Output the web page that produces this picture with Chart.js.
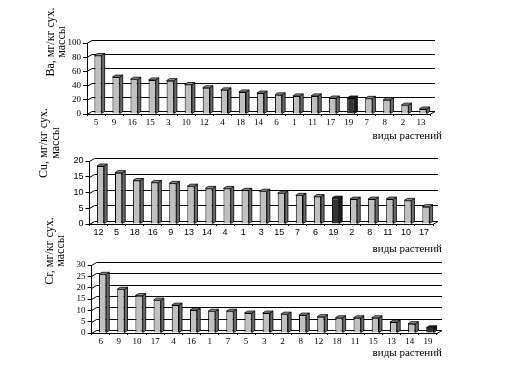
<!DOCTYPE html>
<html>
<head>
<meta charset="utf-8">
<script src="https://cdn.jsdelivr.net/npm/chart.js@4.4.0/dist/chart.umd.min.js"></script>
<style>
  html, body { margin: 0; padding: 0; background: #fff; }
  #wrap { position: relative; width: 508px; height: 371px; overflow: hidden; }
  canvas { position: absolute; left: 0; top: 0; }
</style>
</head>
<body>
<div id="wrap">
  <canvas id="c1" width="508" height="371"></canvas>
  <canvas id="c2" width="508" height="371"></canvas>
  <canvas id="c3" width="508" height="371"></canvas>
</div>
<script>
// ---- data ----
const categoriesBa = ['5','9','16','15','3','10','12','4','18','14','6','1','11','17','19','7','8','2','13'];
const valuesBa     = [82.5,52,49,48,47,41.5,37,34,31,29.5,27,25.5,25.5,22.5,22.5,22,20,12.5,7];

const categoriesCu = ['12','5','18','16','9','13','14','4','1','3','15','7','6','19','2','8','11','10','17'];
const valuesCu     = [18.4,16.3,13.8,13.2,12.9,12,11.3,11.3,10.7,10.4,9.8,9.1,8.7,8.2,7.9,7.9,7.9,7.5,5.5];

const categoriesCr = ['6','9','10','17','4','16','1','7','5','3','2','8','12','18','11','15','13','14','19'];
const valuesCr     = [25.9,19.3,16.5,14.5,12.3,10.1,9.6,9.6,8.8,8.8,8.3,7.9,7.2,6.7,6.7,6.7,4.8,4.1,2.3];

const yTicksBa = { max: 100, step: 20 };
const yTicksCu = { max: 20, step: 5 };
const yTicksCr = { max: 30, step: 5 };

const titleBa = ['Ba, мг/кг сух.', 'массы'];
const titleCu = ['Cu, мг/кг сух.', 'массы'];
const titleCr = ['Cr, мг/кг сух.', 'массы'];
const xTitle = 'виды растений';
const highlight = '19';

// ---- styles ----
const LIGHT = '#c0c0c0', LIGHT_SIDE = '#6a6a6a', LIGHT_TOP = '#9a9a9a';
const DARK = '#333333', DARK_SIDE = '#1a1a1a', DARK_TOP = '#262626';
const SERIF = '"Liberation Serif", "Times New Roman", serif';
const SANS = '"Liberation Sans", Arial, sans-serif';
const DX = 5, DY = -3;      // back wall offset
const BDX = 3, BDY = -2;    // bar depth
const SHIFT = 2;            // bars sit mid-depth

function makeChart(id, cats, vals, yt, title, geo) {
  const yW = 30, xH = 20;
  const light = cats.map(c => c === highlight ? DARK : LIGHT);
  const plugin = {
    id: 'fake3d_' + id,
    beforeDatasetsDraw(chart) {
      const ctx = chart.ctx, a = chart.chartArea, ys = chart.scales.y;
      ctx.save();
      ctx.strokeStyle = '#000';
      ctx.lineWidth = 1;
      ys.ticks.forEach(t => {
        const y = Math.round(ys.getPixelForValue(t.value)) + 0.5;
        ctx.beginPath();
        ctx.moveTo(a.left, y);
        ctx.lineTo(a.left + DX, y + DY);
        ctx.lineTo(a.right + DX, y + DY);
        ctx.stroke();
      });
      ctx.beginPath();
      const b = Math.round(a.bottom) + 0.5;
      ctx.moveTo(a.right, b);
      ctx.lineTo(a.right + DX, b + DY);
      ctx.stroke();
      ctx.restore();
      ctx.save();
      ctx.translate(SHIFT, 0);
    },
    afterDatasetsDraw(chart) {
      const ctx = chart.ctx;
      const meta = chart.getDatasetMeta(0);
      meta.data.forEach((el, i) => {
        const p = el.getProps(['x', 'y', 'base', 'width'], true);
        const xl = p.x - p.width / 2, xr = p.x + p.width / 2;
        const dark = cats[i] === highlight;
        ctx.lineWidth = 0.8;
        ctx.strokeStyle = '#000';
        // side face
        ctx.beginPath();
        ctx.moveTo(xr, p.y);
        ctx.lineTo(xr + BDX, p.y + BDY);
        ctx.lineTo(xr + BDX, p.base + BDY);
        ctx.lineTo(xr, p.base);
        ctx.closePath();
        ctx.fillStyle = dark ? DARK_SIDE : LIGHT_SIDE;
        ctx.fill(); ctx.stroke();
        // top face
        ctx.beginPath();
        ctx.moveTo(xl, p.y);
        ctx.lineTo(xl + BDX, p.y + BDY);
        ctx.lineTo(xr + BDX, p.y + BDY);
        ctx.lineTo(xr, p.y);
        ctx.closePath();
        ctx.fillStyle = dark ? DARK_TOP : LIGHT_TOP;
        ctx.fill(); ctx.stroke();
      });
      ctx.restore();
    },
    afterDraw(chart) {
      const ctx = chart.ctx, a = chart.chartArea;
      ctx.save();
      ctx.fillStyle = '#000';
      ctx.textAlign = 'center';
      ctx.textBaseline = 'middle';
      ctx.font = '12px ' + SERIF;
      title.forEach((line, k) => {
        ctx.save();
        ctx.translate(geo.tx[k], geo.ty);
        ctx.rotate(-Math.PI / 2);
        ctx.fillText(line, 0, 0);
        ctx.restore();
      });
      ctx.font = '11px ' + SERIF;
      ctx.textAlign = 'right';
      ctx.fillText(xTitle, geo.xtX, a.bottom + geo.xtDy);
      ctx.restore();
    }
  };
  return new Chart(document.getElementById(id), {
    type: 'bar',
    data: {
      labels: cats,
      datasets: [{
        data: vals,
        backgroundColor: light,
        borderColor: '#000',
        borderWidth: 1,
        barPercentage: 0.4,
        categoryPercentage: 1.0
      }]
    },
    options: {
      responsive: false,
      animation: false,
      devicePixelRatio: 1,
      layout: {
        padding: {
          left: geo.L - yW,
          right: 508 - geo.R,
          top: geo.T,
          bottom: 371 - geo.B - xH
        }
      },
      plugins: { legend: { display: false }, tooltip: { enabled: false }, title: { display: false } },
      scales: {
        x: {
          offset: true,
          afterFit(s) { s.height = xH; },
          grid: { display: true, drawOnChartArea: false, drawTicks: true, tickLength: 2, color: '#000', offset: true },
          border: { display: true, color: '#000', width: 1 },
          ticks: { color: '#000', font: { family: geo.font, size: 9 }, padding: 1, maxRotation: 0, autoSkip: false }
        },
        y: {
          min: 0, max: yt.max,
          afterFit(s) { s.width = yW; },
          grid: { display: true, drawOnChartArea: false, drawTicks: true, tickLength: 4, color: '#000' },
          border: { display: true, color: '#000', width: 1 },
          ticks: { stepSize: yt.step, autoSkip: false, color: '#000', font: { family: geo.font, size: 9 }, padding: 2 }
        }
      }
    },
    plugins: [plugin]
  });
}

makeChart('c1', categoriesBa, valuesBa, yTicksBa, titleBa,
  { L: 87, R: 430, T: 43, B: 114, tx: [51, 62], ty: 42, xtX: 442, xtDy: 22, font: SERIF });
makeChart('c2', categoriesCu, valuesCu, yTicksCu, titleCu,
  { L: 89.5, R: 433, T: 161, B: 224, tx: [44, 56], ty: 143, xtX: 442, xtDy: 25, font: SANS });
makeChart('c3', categoriesCr, valuesCr, yTicksCr, titleCr,
  { L: 91.6, R: 437, T: 265, B: 333, tx: [50, 61], ty: 251, xtX: 442, xtDy: 20, font: SERIF });
</script>
</body>
</html>
